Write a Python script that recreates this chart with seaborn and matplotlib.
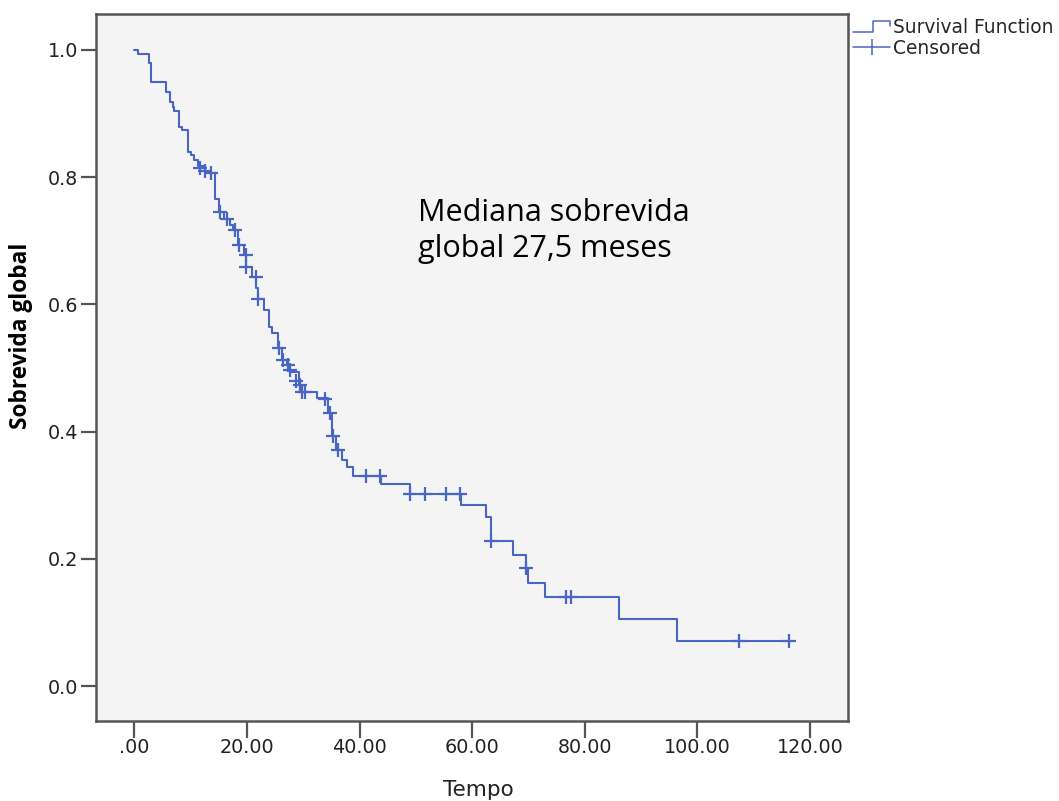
import numpy as np
import matplotlib
matplotlib.use("Agg")
import matplotlib.pyplot as plt
from matplotlib.lines import Line2D
from matplotlib.legend_handler import HandlerBase
import seaborn as sns

# ---- data ----
step_times = [0, 0.7, 2.6, 2.9, 5.7, 6.3, 6.8, 7.0, 7.9, 8.4, 9.5, 10.0, 10.6, 11.3,
              12.5, 14.3, 15.0, 15.9, 17.0, 17.5, 18.4, 19.4, 19.9, 20.9, 21.7, 22.0,
              23.0, 23.9, 24.4, 25.5, 26.2, 27.1, 27.6, 29.2, 29.7, 32.4, 34.4, 35.1,
              35.8, 36.8, 37.7, 38.8, 43.8, 48.9, 58.1, 62.4, 63.4, 67.3, 69.5, 69.9,
              73.0, 86.1, 96.3]
step_surv = [1.0, 0.994, 0.980, 0.950, 0.934, 0.919, 0.911, 0.904, 0.879, 0.874, 0.840,
             0.835, 0.827, 0.817, 0.807, 0.765, 0.746, 0.735, 0.725, 0.717, 0.693, 0.678,
             0.659, 0.643, 0.626, 0.608, 0.591, 0.565, 0.555, 0.531, 0.513, 0.505, 0.494,
             0.473, 0.463, 0.453, 0.429, 0.393, 0.371, 0.355, 0.344, 0.330, 0.317, 0.302,
             0.285, 0.265, 0.228, 0.206, 0.185, 0.162, 0.140, 0.105, 0.071]
censor_times = [11.6, 12.5, 13.7, 15.2, 16.4, 17.8, 18.6, 19.9, 19.9, 21.6, 22.0, 25.7,
                26.4, 27.3, 27.6, 28.8, 29.4, 29.7, 30.3, 33.8, 34.7, 35.3, 36.2, 41.2,
                43.6, 48.9, 51.6, 55.4, 57.8, 63.4, 69.6, 76.7, 77.5, 107.4, 116.2]
censor_surv = [0.814, 0.809, 0.807, 0.746, 0.735, 0.717, 0.693, 0.678, 0.659, 0.643, 0.608,
               0.531, 0.513, 0.505, 0.497, 0.480, 0.473, 0.463, 0.463, 0.451, 0.429, 0.393,
               0.371, 0.330, 0.330, 0.302, 0.302, 0.302, 0.302, 0.228, 0.185, 0.140, 0.140,
               0.071, 0.071]
x_ticks = [0, 20, 40, 60, 80, 100, 120]
x_tick_labels = [".00", "20.00", "40.00", "60.00", "80.00", "100.00", "120.00"]
y_ticks = [0.0, 0.2, 0.4, 0.6, 0.8, 1.0]
y_tick_labels = ["0.0", "0.2", "0.4", "0.6", "0.8", "1.0"]
legend_labels = ["Survival Function", "Censored"]
annotation = "Mediana sobrevida\nglobal 27,5 meses"
x_label = "Tempo"
y_label = "Sobrevida global"

BLUE = "#4A66C4"
GRID = "#555555"

sns.set_style("white")
plt.rcParams["font.family"] = ["DejaVu Sans"]

fig = plt.figure(figsize=(10.59, 8.01), dpi=100)
ax = fig.add_axes([96 / 1059, 1 - 721 / 801, (848 - 96) / 1059, (721 - 14) / 801])
ax.set_facecolor("#F4F4F4")

# line extends to last observed (censored) time
line_x = step_times + [max(censor_times)]
line_y = step_surv + [step_surv[-1]]
sns.lineplot(x=line_x, y=line_y, ax=ax, drawstyle="steps-post", estimator=None,
             sort=False, color=BLUE, linewidth=1.5)
sns.scatterplot(x=censor_times, y=censor_surv, ax=ax, marker="+", s=100,
                color=BLUE, linewidth=1.6, zorder=3)

ax.set_xlim(-6.8, 126.75)
ax.set_ylim(-0.055, 1.0566)
ax.set_xticks(x_ticks)
ax.set_xticklabels(x_tick_labels)
ax.set_yticks(y_ticks)
ax.set_yticklabels(y_tick_labels)
ax.tick_params(axis="x", length=12, width=1.6, color=GRID, pad=0.5, labelsize=13.8,
               labelcolor="#222222", direction="out", bottom=True)
ax.tick_params(axis="y", length=11, width=1.6, color=GRID, pad=2, labelsize=13.8,
               labelcolor="#222222", direction="out", left=True)
for sp in ax.spines.values():
    sp.set_color(GRID)
    sp.set_linewidth(1.8)
    sp.set_visible(True)

ax.set_xlabel(x_label, fontsize=15.5, color="#222222", va="top")
ax.xaxis.set_label_coords((478 - 96) / 752, (721 - 780) / 707)
ax.set_ylabel(y_label, fontsize=16.3, fontweight="bold", family="Open Sans", color="black")
ax.yaxis.set_label_coords((33 - 96) / 752, (721 - 335.5) / 707)

ax.text(50.4, 0.768, annotation, fontsize=22, family="Open Sans", color="black",
        ha="left", va="top", linespacing=1.28)


class StepHandler(HandlerBase):
    def create_artists(self, legend, orig_handle, xdescent, ydescent, width, height,
                       fontsize, trans):
        xs = np.array([0.0, 0.55, 0.55, 1.0, 1.0]) * width - xdescent
        ys = np.array([0.1, 0.1, 0.95, 0.95, 0.55]) * height - ydescent
        ln = Line2D(xs, ys, color=BLUE, lw=1.1)
        ln.set_transform(trans)
        return [ln]


h_surv = Line2D([], [], color=BLUE, lw=1.1)
h_cens = Line2D([], [], color=BLUE, lw=1.1, marker="|", markersize=11, markeredgewidth=1.1)
fig.legend([h_surv, h_cens], legend_labels, loc="upper left",
           bbox_to_anchor=(853 / 1059, 1 - 18 / 801), bbox_transform=fig.transFigure,
           frameon=False, fontsize=13.4, handlelength=2.0, handletextpad=0.15,
           labelspacing=0.1, borderpad=0, borderaxespad=0, numpoints=1,
           handler_map={h_surv: StepHandler()})

fig.savefig("out.png", dpi=100)
